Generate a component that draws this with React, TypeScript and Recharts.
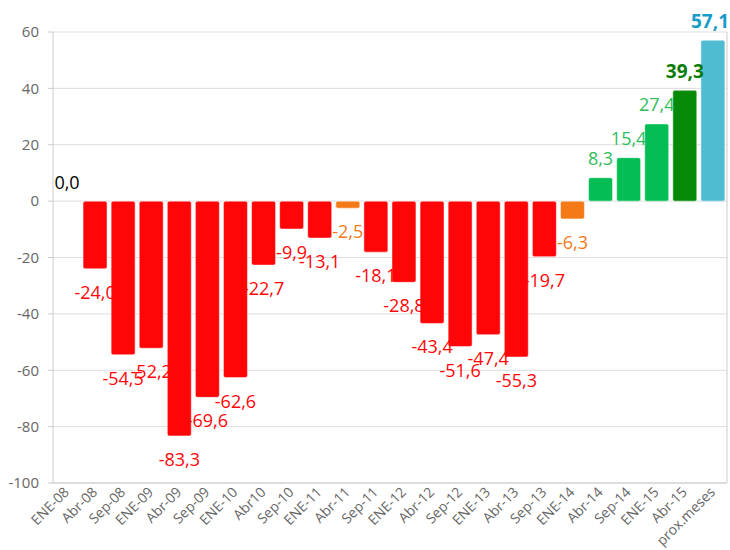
import { BarChart, Bar, XAxis, YAxis, CartesianGrid, Cell, LabelList, ReferenceDot } from 'recharts';

const CATEGORIES = [
  'ENE-08', 'Abr-08', 'Sep-08', 'ENE-09', 'Abr-09', 'Sep-09', 'ENE-10', 'Abr10',
  'Sep-10', 'ENE-11', 'Abr-11', 'Sep-11', 'ENE-12', 'Abr-12', 'Sep-12', 'ENE-13',
  'Abr-13', 'Sep-13', 'ENE-14', 'Abr-14', 'Sep-14', 'ENE-15', 'Abr-15', 'prox.meses',
];

const VALUES = [
  0.0, -24.0, -54.5, -52.2, -83.3, -69.6, -62.6, -22.7,
  -9.9, -13.1, -2.5, -18.1, -28.8, -43.4, -51.6, -47.4,
  -55.3, -19.7, -6.3, 8.3, 15.4, 27.4, 39.3, 57.1,
];

const Y_TICKS = [-100, -80, -60, -40, -20, 0, 20, 40, 60];

const RED = '#ff0508';
const ORANGE = '#f47a18';
const GREEN = '#05bd55';
const DARK_GREEN = '#068a08';
const TEAL = '#50bcd2';

const data = CATEGORIES.map((name, i) => ({ name, value: VALUES[i] }));

const barColor = (name: string, v: number) => {
  if (name === 'prox.meses') return TEAL;
  if (name === 'Abr-15') return DARK_GREEN;
  if (v > 0) return GREEN;
  if (v > -8) return ORANGE;
  return RED;
};

const labelColor = (name: string, v: number) => {
  if (name === 'prox.meses') return '#1a9cc8';
  if (name === 'Abr-15') return '#077d07';
  if (v === 0) return '#000000';
  if (v > 0) return '#2fbd60';
  if (v > -8) return ORANGE;
  return RED;
};

const fmt = (v: number) => v.toFixed(1).replace('.', ',');

// LabelList is keyed on the category name so colours don't depend on index
function ValueLabel(props: any) {
  const { x, y, width, height, value: name } = props;
  const value = VALUES[CATEGORIES.indexOf(name)];
  const top = Math.min(y, y + height);
  const bottom = Math.max(y, y + height);
  // keep the last label inside the chart like highcharts does
  const cx = Math.min(x + width / 2, 710);
  const bold = name === 'Abr-15' || name === 'prox.meses';
  const cy = value < 0 ? bottom + 23 : top - (bold ? 19 : 20);
  return (
    <text
      x={cx}
      y={cy}
      textAnchor="middle"
      dominantBaseline="central"
      fill={labelColor(name, value)}
      fontSize={bold ? 19 : 18}
      fontWeight={bold ? 700 : 400}
      fontFamily="'Open Sans', sans-serif"
    >
      {fmt(value)}
    </text>
  );
}

function XTick(props: any) {
  const { x, y, payload } = props;
  const ax = x + 3;
  const ay = y + 10;
  return (
    <text
      x={ax}
      y={ay}
      textAnchor="end"
      transform={`rotate(-45, ${ax}, ${ay})`}
      fill="#666666"
      fontSize={14}
      fontFamily="'Open Sans', sans-serif"
    >
      {payload.value}
    </text>
  );
}

export default function App() {
  return (
    <div style={{ position: 'absolute', left: 0, top: 0, width: 730, height: 550, background: '#fff' }}>
      <BarChart
        width={730}
        height={550}
        data={data}
        margin={{ top: 32, right: 0, left: 0, bottom: 0 }}
        barCategoryGap="7%"
      >
        <CartesianGrid vertical={false} stroke="#dddddd" yAxisId="left" />
        <XAxis
          dataKey="name"
          height={67}
          interval={0}
          tick={<XTick />}
          tickLine={false}
          tickSize={0}
          tickMargin={0}
          axisLine={{ stroke: '#cccccc' }}
        />
        <YAxis
          yAxisId="left"
          width={53}
          domain={[-100, 60]}
          ticks={Y_TICKS}
          interval={0}
          axisLine={{ stroke: '#cccccc' }}
          tickLine={{ stroke: '#cccccc' }}
          tickSize={5}
          tickMargin={9}
          tick={{ fill: '#666666', fontSize: 15, fontFamily: "'Open Sans', sans-serif" }}
        />
        <YAxis
          yAxisId="right"
          orientation="right"
          width={3}
          domain={[-100, 60]}
          tick={false}
          tickLine={false}
          axisLine={{ stroke: '#cccccc' }}
        />
        <Bar
          yAxisId="left"
          dataKey="value"
          radius={2}
          stroke="rgba(255,255,255,0.5)"
          strokeWidth={1}
          isAnimationActive={false}
        >
          {data.map((d) => (
            <Cell key={d.name} fill={barColor(d.name, d.value)} />
          ))}
          <LabelList dataKey="name" content={<ValueLabel />} />
        </Bar>
        <ReferenceDot
          yAxisId="left"
          x={CATEGORIES[0]}
          y={VALUES[0]}
          r={0}
          stroke="none"
          label={{
            value: fmt(VALUES[0]),
            position: 'top',
            offset: 12,
            fill: '#000000',
            fontSize: 18,
            fontFamily: "'Open Sans', sans-serif",
          }}
        />
      </BarChart>
    </div>
  );
}
